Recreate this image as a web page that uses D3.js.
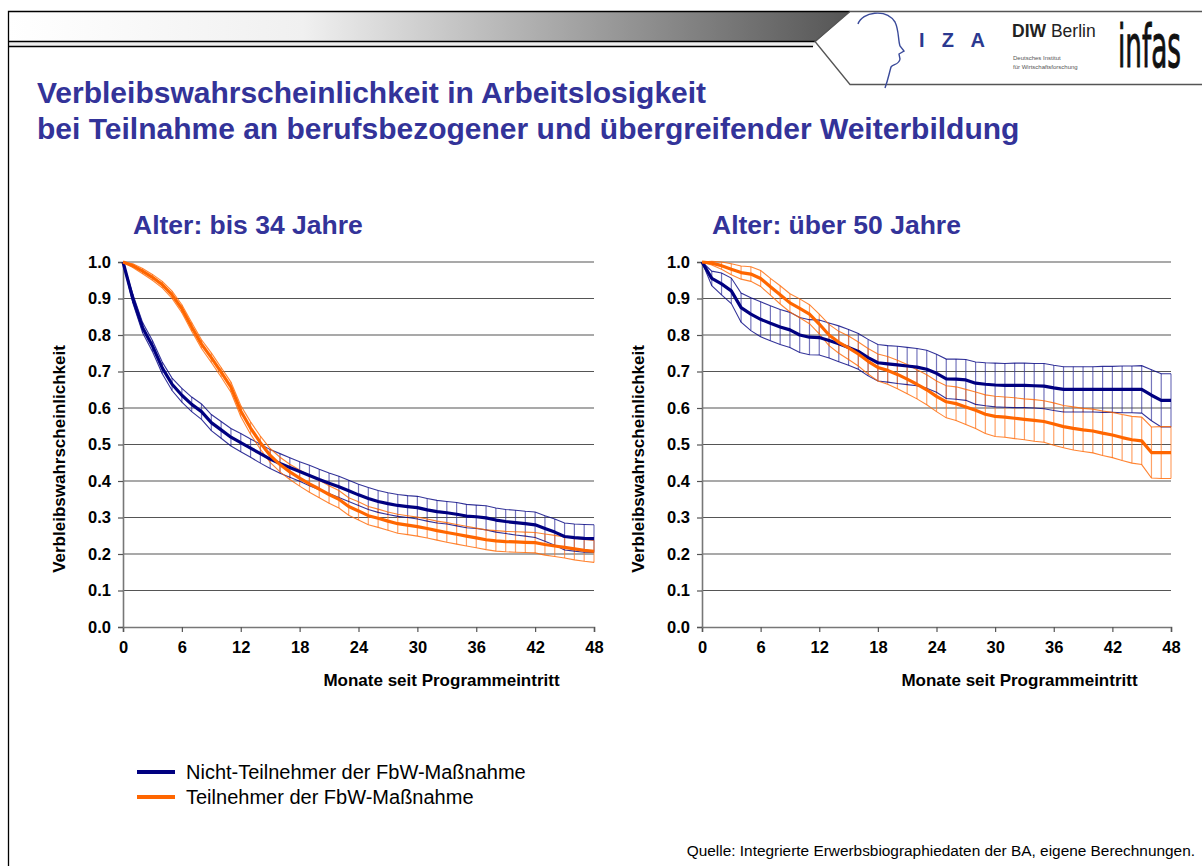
<!DOCTYPE html>
<html>
<head>
<meta charset="utf-8">
<title>Verbleibswahrscheinlichkeit in Arbeitslosigkeit</title>
<script src="https://cdn.jsdelivr.net/npm/d3@7"></script>
<style>
  body { margin: 0; background: #fff; }
  svg { display: block; font-family: "Liberation Sans", Arial, sans-serif; }
</style>
</head>
<body>
<div id="slide"></div>
<script>
// Monate 0..48, Werte
const months = d3.range(0, 49);
const xTicks = [0, 6, 12, 18, 24, 30, 36, 42, 48];
const yTicks = [0, 0.1, 0.2, 0.3, 0.4, 0.5, 0.6, 0.7, 0.8, 0.9, 1.0];

// Alter bis 34 Jahre
const young_nicht = [1.0, 0.90, 0.82, 0.77, 0.71, 0.665, 0.635, 0.61, 0.59, 0.56, 0.54, 0.52, 0.505,
  0.49, 0.475, 0.46, 0.448, 0.437, 0.426, 0.415, 0.404, 0.394, 0.384, 0.373, 0.362, 0.352, 0.344,
  0.338, 0.333, 0.33, 0.327, 0.321, 0.316, 0.313, 0.309, 0.304, 0.302, 0.299, 0.293, 0.289, 0.286,
  0.283, 0.28, 0.27, 0.26, 0.248, 0.245, 0.243, 0.242];
const young_nicht_ci = [0, 0.012, 0.014, 0.015, 0.016, 0.017, 0.019, 0.02, 0.021, 0.022, 0.023, 0.024,
  0.025, 0.025, 0.026, 0.026, 0.027, 0.027, 0.027, 0.028, 0.028, 0.028, 0.029, 0.029, 0.029, 0.03,
  0.03, 0.03, 0.03, 0.03, 0.031, 0.031, 0.031, 0.031, 0.032, 0.032, 0.032, 0.033, 0.033, 0.033,
  0.034, 0.034, 0.035, 0.035, 0.036, 0.037, 0.037, 0.038, 0.038];
const young_teil = [1.0, 0.99, 0.975, 0.958, 0.938, 0.91, 0.872, 0.822, 0.775, 0.738, 0.698, 0.657, 0.592,
  0.545, 0.505, 0.47, 0.445, 0.425, 0.408, 0.392, 0.378, 0.363, 0.35, 0.33, 0.318, 0.305, 0.298,
  0.29, 0.283, 0.279, 0.275, 0.27, 0.264, 0.259, 0.254, 0.249, 0.244, 0.239, 0.236, 0.234, 0.233,
  0.232, 0.231, 0.226, 0.222, 0.218, 0.214, 0.21, 0.207];
const young_teil_ci = [0, 0.005, 0.007, 0.008, 0.009, 0.01, 0.011, 0.012, 0.012, 0.013, 0.013, 0.014,
  0.015, 0.017, 0.018, 0.019, 0.02, 0.021, 0.022, 0.023, 0.024, 0.024, 0.024, 0.024, 0.025, 0.025,
  0.025, 0.025, 0.026, 0.026, 0.026, 0.026, 0.026, 0.027, 0.027, 0.027, 0.027, 0.027, 0.028, 0.028,
  0.028, 0.028, 0.028, 0.029, 0.029, 0.029, 0.03, 0.03, 0.03];

// Alter über 50 Jahre
const old_nicht = [1.0, 0.955, 0.94, 0.921, 0.875, 0.857, 0.843, 0.832, 0.822, 0.814, 0.80, 0.794, 0.793,
  0.785, 0.776, 0.766, 0.755, 0.738, 0.724, 0.721, 0.718, 0.715, 0.712, 0.706, 0.695, 0.68, 0.679,
  0.677, 0.668, 0.665, 0.663, 0.662, 0.662, 0.662, 0.661, 0.66, 0.655, 0.651, 0.651, 0.651, 0.651,
  0.651, 0.651, 0.651, 0.651, 0.651, 0.635, 0.621, 0.621];
const old_nicht_ci = [0, 0.02, 0.03, 0.035, 0.04, 0.045, 0.048, 0.048, 0.048, 0.048, 0.048, 0.048,
  0.048, 0.048, 0.049, 0.049, 0.049, 0.05, 0.05, 0.05, 0.051, 0.051, 0.051, 0.052, 0.052, 0.054,
  0.055, 0.056, 0.058, 0.059, 0.06, 0.06, 0.061, 0.061, 0.061, 0.062, 0.062, 0.062, 0.062, 0.062,
  0.062, 0.063, 0.063, 0.064, 0.064, 0.065, 0.07, 0.073, 0.073];
const old_teil = [1.0, 0.997, 0.99, 0.98, 0.971, 0.967, 0.955, 0.932, 0.91, 0.888, 0.873, 0.857, 0.83,
  0.80, 0.78, 0.765, 0.748, 0.728, 0.711, 0.703, 0.692, 0.679, 0.665, 0.65, 0.632, 0.617, 0.612,
  0.603, 0.594, 0.583, 0.577, 0.575, 0.572, 0.569, 0.566, 0.563, 0.556, 0.549, 0.544, 0.54, 0.537,
  0.531, 0.526, 0.519, 0.513, 0.51, 0.478, 0.478, 0.478];
const old_teil_ci = [0, 0.005, 0.01, 0.015, 0.018, 0.02, 0.022, 0.023, 0.025, 0.025, 0.026, 0.026,
  0.027, 0.029, 0.03, 0.032, 0.033, 0.035, 0.037, 0.038, 0.039, 0.04, 0.04, 0.041, 0.042, 0.044,
  0.046, 0.048, 0.05, 0.053, 0.055, 0.055, 0.056, 0.056, 0.057, 0.057, 0.058, 0.058, 0.059, 0.059,
  0.06, 0.061, 0.062, 0.063, 0.064, 0.065, 0.07, 0.071, 0.071];

const NAVY = "#000080", ORANGE = "#ff6600", TITLE = "#333399";

const W = 1202, H = 866;
const svg = d3.select("#slide").append("svg").attr("width", W).attr("height", H);

// ---------- Folienrahmen ----------
const defs = svg.append("defs");
const grad = defs.append("linearGradient").attr("id", "bar").attr("x1", 0).attr("x2", 1);
grad.append("stop").attr("offset", 0).attr("stop-color", "#ffffff");
grad.append("stop").attr("offset", 0.35).attr("stop-color", "#f0f0f0");
grad.append("stop").attr("offset", 1).attr("stop-color", "#555555");

svg.append("path")
  .attr("d", "M8.5,11.5 L850,11.5 L816,41.5 L8.5,41.5 Z")
  .attr("fill", "url(#bar)");
svg.append("rect").attr("x", 8.5).attr("y", 41.5).attr("width", 806).attr("height", 5)
  .attr("fill", "#eeeeee");
svg.append("path")
  .attr("d", "M8.5,866 L8.5,11.5 L850,11.5 M8.5,41.5 L816,41.5 M8.5,46.5 L813,46.5")
  .attr("fill", "none").attr("stroke", "#000").attr("stroke-width", 1.3);
svg.append("path")
  .attr("d", "M850,11.5 L1202,11.5 M850,11.5 L815,41.5 L850,84.5 L1202,84.5")
  .attr("fill", "none").attr("stroke", "#555").attr("stroke-width", 1.3);

// Logos
svg.append("path")
  .attr("d", "M858,24 C862,12 886,8 895,22 C899,30 898,40 900,46 L904,51 L899,54 L900,59 C899,65 893,64 891,67 C889,74 888,80 885,88")
  .attr("fill", "none").attr("stroke", "#3a4a9a").attr("stroke-width", 1.4);
svg.append("text").attr("x", 919).attr("y", 47).attr("font-size", 20).attr("font-weight", "bold")
  .attr("fill", "#2b3990").attr("textLength", 66).attr("lengthAdjust", "spacing").text("I Z A");
const diw = svg.append("text").attr("x", 1012).attr("y", 37).attr("font-size", 17.5).attr("fill", "#222");
diw.append("tspan").attr("font-weight", "bold").text("DIW");
diw.append("tspan").text(" Berlin");
svg.append("text").attr("x", 1013).attr("y", 60).attr("font-size", 6).attr("fill", "#555").text("Deutsches Institut");
svg.append("text").attr("x", 1013).attr("y", 69).attr("font-size", 6).attr("fill", "#555").text("für Wirtschaftsforschung");
const infas = svg.append("text").attr("font-size", 58)
  .attr("font-family", "'DejaVu Sans Condensed', 'Liberation Sans Narrow', sans-serif")
  .attr("fill", "#111").attr("stroke", "#111").attr("stroke-width", 1).text("infas");
const infasScale = 63 / infas.node().getComputedTextLength();
infas.attr("transform", `translate(1118,67) scale(${infasScale},1)`);

// Titel
svg.append("text").attr("x", 37).attr("y", 103).attr("font-size", 30).attr("font-weight", "bold")
  .attr("fill", TITLE).text("Verbleibswahrscheinlichkeit in Arbeitslosigkeit");
svg.append("text").attr("x", 37).attr("y", 139).attr("font-size", 30).attr("font-weight", "bold")
  .attr("fill", TITLE).text("bei Teilnahme an berufsbezogener und übergreifender Weiterbildung");

// ---------- Diagramme ----------
function drawPanel(left, right, title, nicht, nichtCi, teil, teilCi) {
  const x = d3.scaleLinear().domain([0, 48]).range([left, right]);
  const y = d3.scaleLinear().domain([0, 1]).range([627, 262]);
  const g = svg.append("g");

  g.append("text").attr("x", left + 10).attr("y", 234).attr("font-size", 26.5).attr("font-weight", "bold")
    .attr("fill", TITLE).text(title);

  // Gitter
  g.append("g").selectAll("line").data(yTicks.filter(d => d > 0)).join("line")
    .attr("x1", x(0)).attr("x2", x(48)).attr("y1", d => y(d)).attr("y2", d => y(d))
    .attr("stroke", "#555").attr("stroke-width", 1.1);

  // Achsen
  const ax = g.append("g").attr("transform", `translate(0,${y(0)})`)
    .call(d3.axisBottom(x).tickValues(xTicks).tickSize(5).tickPadding(9).tickFormat(d3.format("d")));
  const ay = g.append("g").attr("transform", `translate(${x(0)},0)`)
    .call(d3.axisLeft(y).tickValues(yTicks).tickSize(5).tickPadding(7).tickFormat(d3.format(".1f")));
  [ax, ay].forEach(a => {
    a.select(".domain").attr("stroke", "#777").attr("stroke-width", 1.6);
    a.selectAll(".tick line").attr("stroke", "#555").attr("stroke-width", 1.2);
    a.selectAll("text").attr("font-size", 16.5).attr("font-weight", "bold").attr("fill", "#000")
      .attr("font-family", "'Liberation Sans', Arial, sans-serif");
  });

  g.append("text").attr("x", (x(0) + x(48)) / 2 + 83).attr("y", 686).attr("text-anchor", "middle")
    .attr("font-size", 17).attr("font-weight", "bold").text("Monate seit Programmeintritt");
  g.append("text").attr("transform", `translate(${left - 58},459) rotate(-90)`)
    .attr("text-anchor", "middle").attr("font-size", 17).attr("font-weight", "bold")
    .text("Verbleibswahrscheinlichkeit");

  const series = [
    { mean: nicht, ci: nichtCi, color: NAVY, bar: "#3a3aa0" },
    { mean: teil, ci: teilCi, color: ORANGE, bar: "#ff7a26" }
  ];

  // Konfidenzbalken je Monat
  series.forEach(s => {
    g.append("g").selectAll("line").data(months.filter(i => s.ci[i] > 0)).join("line")
      .attr("x1", i => x(i)).attr("x2", i => x(i))
      .attr("y1", i => y(s.mean[i] + s.ci[i])).attr("y2", i => y(s.mean[i] - s.ci[i]))
      .attr("stroke", s.bar).attr("stroke-opacity", 0.7).attr("stroke-width", 1.2);
  });

  // Grenzen des Konfidenzintervalls
  series.forEach(s => {
    [1, -1].forEach(sign => {
      g.append("path").datum(months)
        .attr("d", d3.line().x(i => x(i)).y(i => y(s.mean[i] + sign * s.ci[i])))
        .attr("fill", "none").attr("stroke", s.color).attr("stroke-opacity", 0.8).attr("stroke-width", 1.1);
    });
  });

  // Mittelwerte
  series.forEach(s => {
    g.append("path").datum(months)
      .attr("d", d3.line().x(i => x(i)).y(i => y(s.mean[i])))
      .attr("fill", "none").attr("stroke", s.color).attr("stroke-width", 3.2)
      .attr("stroke-linejoin", "round");
  });
}

drawPanel(123, 594, "Alter: bis 34 Jahre", young_nicht, young_nicht_ci, young_teil, young_teil_ci);
drawPanel(702, 1171, "Alter: über 50 Jahre", old_nicht, old_nicht_ci, old_teil, old_teil_ci);

// ---------- Legende ----------
const legend = [
  { label: "Nicht-Teilnehmer der FbW-Maßnahme", color: NAVY },
  { label: "Teilnehmer der FbW-Maßnahme", color: ORANGE }
];
const lg = svg.append("g").selectAll("g").data(legend).join("g")
  .attr("transform", (d, i) => `translate(137,${772 + i * 25})`);
lg.append("line").attr("x1", 0).attr("x2", 38).attr("stroke", d => d.color).attr("stroke-width", 4);
lg.append("text").attr("x", 49).attr("y", 7).attr("font-size", 20).text(d => d.label);

svg.append("text").attr("x", 1195).attr("y", 856).attr("text-anchor", "end").attr("font-size", 15.4)
  .text("Quelle: Integrierte Erwerbsbiographiedaten der BA, eigene Berechnungen.");
</script>
</body>
</html>
